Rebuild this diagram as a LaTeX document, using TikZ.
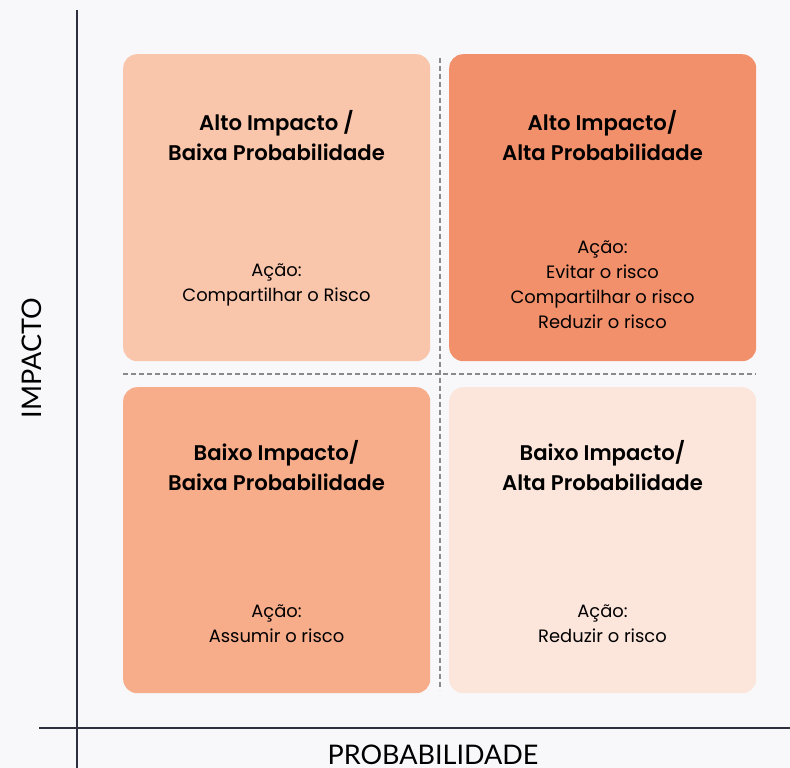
\documentclass[tikz,border=0pt]{standalone}
\usepackage{fontspec}
\setmainfont{Poppins}[BoldFont={Poppins SemiBold}]
\newfontfamily\axisfont{Lato}
\begin{document}
\begin{tikzpicture}[x=1pt,y=-1pt,
  quad/.style={draw=none,rounded corners=14pt,minimum width=307pt,minimum height=307pt,inner sep=0pt,anchor=north west},
  ttl/.style={align=center,font=\fontsize{21.2}{30}\selectfont\bfseries,text=black},
  act/.style={align=center,font=\fontsize{17.9}{25}\selectfont,text=black},
  axisline/.style={draw=axiscol,line width=2pt},
  sep/.style={draw=sepcol,line width=1.4pt,dash pattern=on 5pt off 3pt},
  axlbl/.style={font=\axisfont\fontsize{27}{30}\selectfont,text=black}]
\definecolor{bgcol}{HTML}{F8F8FA}
\definecolor{axiscol}{HTML}{2E2F3E}
\definecolor{sepcol}{HTML}{8A8A8A}
\definecolor{ctl}{HTML}{F9C5AB}
\definecolor{ctr}{HTML}{F2906B}
\definecolor{cbl}{HTML}{F7AC8A}
\definecolor{cbr}{HTML}{FCE6DC}
\fill[bgcol] (0,0) rectangle (790,768);
\useasboundingbox (0,0) rectangle (790,768);
% quadrants
\node[quad,fill=ctl] (tl) at (123,54) {};
\node[quad,fill=ctr] (tr) at (449,54) {};
\node[quad,fill=cbl,minimum height=306pt] (bl) at (123,387) {};
\node[quad,fill=cbr,minimum height=306pt] (br) at (449,387) {};
% separators
\coordinate (vs1) at (440,58);
\coordinate (vs2) at (440,690);
\coordinate (hs1) at (123,374);
\coordinate (hs2) at (756,374);
\draw[sep] (vs1) -- (vs2);
\draw[sep] (hs1) -- (hs2);
% axes
\coordinate (va1) at (77,10);
\coordinate (va2) at (77,768);
\coordinate (ha1) at (39,728);
\coordinate (ha2) at (790,728);
\draw[axisline] (va1) -- (va2);
\draw[axisline] (ha1) -- (ha2);
% texts
\node[ttl] (tlt) at (276.5,135.5) {Alto Impacto /\\Baixa Probabilidade};
\node[act] (tla) at (276.5,284.5) {Ação:\\Compartilhar o Risco};
\node[ttl] (trt) at (602.5,135.5) {Alto Impacto/\\Alta Probabilidade};
\node[act] (tra) at (602.5,284.5) {Ação:\\Evitar o risco\\Compartilhar o risco\\Reduzir o risco};
\node[ttl] (blt) at (276.5,465.5) {Baixo Impacto/\\Baixa Probabilidade};
\node[act] (bla) at (276.5,623.5) {Ação:\\Assumir o risco};
\node[ttl] (brt) at (602.5,465.5) {Baixo Impacto/\\Alta Probabilidade};
\node[act] (bra) at (602.5,623.5) {Ação:\\Reduzir o risco};
% axis labels
\node[axlbl,rotate=90] (ylab) at (32,358) {IMPACTO};
\node[axlbl,anchor=base] (xlab) at (433,764) {PROBABILIDADE};
\end{tikzpicture}
\end{document}
